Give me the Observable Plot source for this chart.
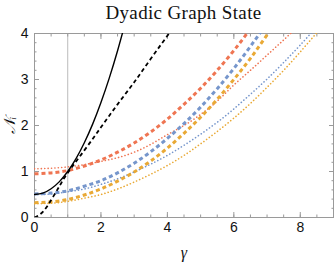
<!DOCTYPE html>
<html><head><meta charset="utf-8">
<script src="https://cdn.jsdelivr.net/npm/d3@7"></script>
<script src="https://cdn.jsdelivr.net/npm/@observablehq/plot@0.6"></script>
<style>
body{margin:0;background:#fff;}
#wrap{width:335px;height:262px;overflow:hidden;}
#title{height:26px;font-family:"Liberation Serif","DejaVu Serif",serif;font-size:19px;letter-spacing:0.35px;line-height:25px;text-align:center;padding-left:34px;padding-right:2px;box-sizing:border-box;width:335px;color:#111;}
</style></head>
<body><div id="wrap"><div id="title">Dyadic Graph State</div></div>
<script>
const xTicks = [0, 2, 4, 6, 8];
const yTicks = [0, 1, 2, 3, 4];
const refGamma = [1];

const solidG = [0, 0.25, 0.5, 0.75, 1, 1.25, 1.5, 1.75, 2, 2.25, 2.5, 2.75];
const solidN = [0.5, 0.53, 0.625, 0.78, 1.0, 1.28, 1.625, 2.03, 2.5, 3.03, 3.625, 4.28];

const dashG = [0, 0.25, 0.5, 0.75, 1, 1.5, 2, 2.5, 3, 3.5, 4, 4.25];
const dashN = [0, 0.12, 0.38, 0.68, 0.97, 1.46, 1.96, 2.46, 2.94, 3.45, 3.95, 4.2];

const redDashG = [0, 0.5, 1, 1.5, 2, 2.5, 3, 3.5, 4, 4.5, 5, 5.5, 6, 6.5, 7];
const redDashN = [0.95, 0.97, 1.02, 1.12, 1.25, 1.42, 1.62, 1.86, 2.14, 2.46, 2.81, 3.2, 3.63, 4.1, 4.6];

const redDotG = [0, 0.5, 1, 1.5, 2, 2.5, 3, 3.5, 4, 4.5, 5, 5.5, 6, 6.5, 7, 7.5, 8];
const redDotN = [1.06, 1.07, 1.1, 1.15, 1.22, 1.3, 1.42, 1.59, 1.8, 2.0, 2.24, 2.53, 2.88, 3.2, 3.53, 3.86, 4.2];

const blueDashG = [0, 0.5, 1, 1.5, 2, 2.5, 3, 3.5, 4, 4.5, 5, 5.5, 6, 6.5, 7];
const blueDashN = [0.51, 0.53, 0.58, 0.68, 0.8, 0.97, 1.18, 1.43, 1.72, 2.04, 2.4, 2.8, 3.24, 3.72, 4.23];

const blueDotG = [0, 0.5, 1, 1.5, 2, 2.5, 3, 3.5, 4, 4.5, 5, 5.5, 6, 6.5, 7, 7.5, 8, 8.5];
const blueDotN = [0.5, 0.51, 0.56, 0.62, 0.72, 0.84, 0.99, 1.16, 1.35, 1.57, 1.81, 2.07, 2.36, 2.68, 3.01, 3.37, 3.75, 4.15];

const orDashG = [0, 0.5, 1, 1.5, 2, 2.5, 3, 3.5, 4, 4.5, 5, 5.5, 6, 6.5, 7, 7.5];
const orDashN = [0.32, 0.34, 0.39, 0.49, 0.62, 0.79, 0.99, 1.23, 1.51, 1.83, 2.18, 2.57, 3.0, 3.46, 3.97, 4.5];

const orDotG = [0, 0.5, 1, 1.5, 2, 2.5, 3, 3.5, 4, 4.5, 5, 5.5, 6, 6.5, 7, 7.5, 8, 8.5, 9];
const orDotN = [0.3, 0.31, 0.35, 0.42, 0.5, 0.62, 0.77, 0.94, 1.13, 1.35, 1.6, 1.87, 2.16, 2.48, 2.83, 3.2, 3.6, 4.02, 4.45];

const RED = "#ef7552", BLUE = "#7696cc", ORANGE = "#e9a935";

const series = (g, n) => g.map((x, i) => ({g: x, n: n[i]}));

function line(g, n, opts) {
  return Plot.line(series(g, n), {x: "g", y: "n", curve: "natural", clip: true, ...opts});
}

const xMinor = d3.range(0, 9.01, 0.5);
const yMinor = d3.range(0, 4.01, 0.2);
const frameColor = "#9a9a9a";
const fmt = d => String(d);

const chart = Plot.plot({
  width: 335,
  height: 236,
  marginTop: 7,
  marginBottom: 45,
  marginLeft: 34,
  marginRight: 2,
  style: {fontFamily: "'Liberation Sans', Arial, sans-serif", fontSize: "14px", color: "#111"},
  x: {domain: [0, 9]},
  y: {domain: [0, 4]},
  marks: [
    Plot.ruleX(refGamma, {stroke: "#bbbbbb", strokeWidth: 1}),
    // minor ticks
    Plot.axisX({anchor: "bottom", ticks: xMinor, tickSize: -2.5, tickFormat: () => "", stroke: frameColor, label: null}),
    Plot.axisX({anchor: "top", ticks: xMinor, tickSize: -2.5, tickFormat: () => "", stroke: frameColor, label: null}),
    Plot.axisY({anchor: "left", ticks: yMinor, tickSize: -2.5, tickFormat: () => "", stroke: frameColor, label: null}),
    Plot.axisY({anchor: "right", ticks: yMinor, tickSize: -2.5, tickFormat: () => "", stroke: frameColor, label: null}),
    // major ticks
    Plot.axisX({anchor: "bottom", ticks: xTicks, tickSize: -5, tickFormat: () => "", stroke: frameColor, label: null}),
    Plot.axisX({anchor: "top", ticks: xTicks, tickSize: -5, tickFormat: () => "", stroke: frameColor, label: null}),
    Plot.axisY({anchor: "left", ticks: yTicks, tickSize: -5, tickFormat: () => "", stroke: frameColor, label: null}),
    Plot.axisY({anchor: "right", ticks: yTicks, tickSize: -5, tickFormat: () => "", stroke: frameColor, label: null}),
    // labels
    Plot.axisX({anchor: "bottom", ticks: xTicks, tickSize: 0, tickPadding: 5, tickFormat: fmt, fill: "#111",
      label: "γ", labelAnchor: "center", labelArrow: "none", labelOffset: 40}),
    Plot.axisY({anchor: "left", ticks: yTicks, tickSize: 0, tickPadding: 6, tickFormat: fmt, fill: "#111",
      label: "𝒩ᵢ", labelAnchor: "center", labelArrow: "none", labelOffset: 31}),
    Plot.frame({stroke: frameColor}),
    line(orDotG, orDotN, {stroke: ORANGE, strokeWidth: 1.6, strokeDasharray: "0.1,3.3", strokeLinecap: "round"}),
    line(blueDotG, blueDotN, {stroke: BLUE, strokeWidth: 1.6, strokeDasharray: "0.1,3.3", strokeLinecap: "round"}),
    line(redDotG, redDotN, {stroke: RED, strokeWidth: 1.6, strokeDasharray: "0.1,3.3", strokeLinecap: "round"}),
    line(orDashG, orDashN, {stroke: ORANGE, strokeWidth: 3, strokeDasharray: "4,3", strokeLinecap: "butt"}),
    line(blueDashG, blueDashN, {stroke: BLUE, strokeWidth: 3, strokeDasharray: "4,3", strokeLinecap: "butt"}),
    line(redDashG, redDashN, {stroke: RED, strokeWidth: 3, strokeDasharray: "4,3", strokeLinecap: "butt"}),
    line(dashG, dashN, {stroke: "#000", strokeWidth: 1.8, strokeDasharray: "4,3", strokeLinecap: "butt"}),
    line(solidG, solidN, {stroke: "#000", strokeWidth: 1.4})
  ]
});
document.getElementById("wrap").appendChild(chart);
chart.querySelectorAll("g[aria-label='x-axis label'] text, g[aria-label='y-axis label'] text").forEach(t => {
  t.style.fontFamily = "'Liberation Serif', 'DejaVu Serif', 'DejaVu Sans', serif";
  t.style.fontStyle = "italic";
  t.style.fontSize = "16px";
});
</script>
</body></html>
